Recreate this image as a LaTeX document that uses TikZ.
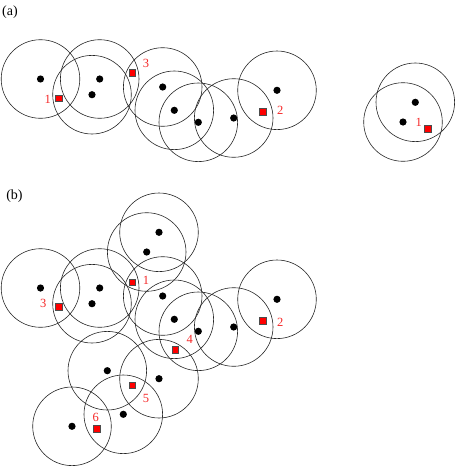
\documentclass[tikz,border=0pt]{standalone}
\usepackage{fontspec}
\setmainfont{Liberation Serif}
\definecolor{lblred}{RGB}{245,40,40}
\begin{document}
\begin{tikzpicture}[x=1pt,y=-1pt,
  rangecirc/.style={circle,draw=black!85,line width=0.6pt,minimum size=78.6pt,inner sep=0pt},
  dotnode/.style={circle,fill=black,minimum size=7.2pt,inner sep=0pt},
  anchorsq/.style={rectangle,fill=red,draw=black!70,line width=0.5pt,minimum size=6.6pt,inner sep=0pt},
  lbl/.style={text=lblred,font=\fontsize{12.5}{12.5}\selectfont,inner sep=0pt},
  panel/.style={font=\fontsize{14}{14}\selectfont,inner sep=0pt}]
\useasboundingbox (0,0) rectangle (456,466);
\node[panel] (pa) at (10,12.5) {(a)};
\node[panel] (pb) at (14.5,196.5) {(b)};
% panel (a)
\foreach \n/\x/\y in {aA/40.5/79,aB/99.7/79,aC/92/94.7,aD/162.7/87,aE/174.3/110.3,aF/198.3/122.3,aG/233.7/118,aH/277/90.3,aR/415.3/102.3,aS/403/122}{
  \node[rangecirc] (c\n) at (\x,\y) {};
  \node[dotnode] (d\n) at (\x,\y) {};
}
\node[anchorsq] (sa1) at (58.7,98.3) {};
\node[lbl] (la1) at (47.7,99) {1};
\node[anchorsq] (sa3) at (132.3,73) {};
\node[lbl] (la3) at (146,63.3) {3};
\node[anchorsq] (sa2) at (263,111.7) {};
\node[lbl] (la2) at (280.3,110.3) {2};
\node[anchorsq] (sar) at (428,129) {};
\node[lbl] (lar) at (418.7,122) {1};
% panel (b)
\foreach \n/\x/\y in {bA/40.5/288,bB/99.7/288,bC/92/303.7,bD/162.7/296,bE/174.3/319.3,bF/198.3/331.3,bG/233.7/327,bH/277/299.3,bT/159/232.3,bU/146.7/252,bL/107.3/370.7,bM/159/378.7,bN/123.3/414.3,bO/72/426.3}{
  \node[rangecirc] (c\n) at (\x,\y) {};
  \node[dotnode] (d\n) at (\x,\y) {};
}
\node[anchorsq] (sb1) at (132.3,282.2) {};
\node[lbl] (lb1) at (146,280) {1};
\node[anchorsq] (sb3) at (58.7,307) {};
\node[lbl] (lb3) at (43.3,303.7) {3};
\node[anchorsq] (sb2) at (263,320.5) {};
\node[lbl] (lb2) at (280.3,322) {2};
\node[anchorsq] (sb4) at (175.3,350) {};
\node[lbl] (lb4) at (189.7,339) {4};
\node[anchorsq] (sb5) at (132.3,385.3) {};
\node[lbl] (lb5) at (146,398.3) {5};
\node[anchorsq] (sb6) at (96.7,428.7) {};
\node[lbl] (lb6) at (95.7,417.7) {6};
\end{tikzpicture}
\end{document}
